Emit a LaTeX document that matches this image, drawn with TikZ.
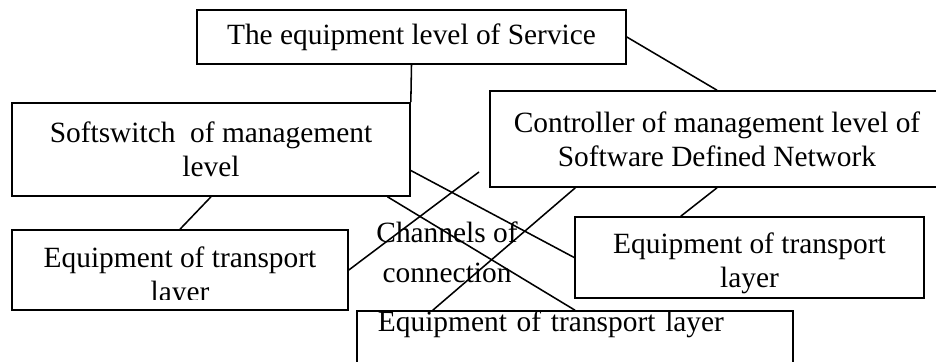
\documentclass[tikz,border=0pt]{standalone}
\usepackage{fontspec}
\setmainfont{Liberation Serif}

\begin{document}
\begin{tikzpicture}[x=0.025cm, y=-0.025cm,
    box/.style={draw, line width=1.1pt, inner sep=0pt, align=center,
      font=\fontsize{20.9}{24}\selectfont},
    boxtext/.style={inner sep=0pt, align=center, font=\fontsize{20.9}{24}\selectfont},
    link/.style={line width=1.1pt}]
\useasboundingbox (0,0) rectangle (936,362);
\node[box, minimum width=10.725cm, minimum height=1.35cm] (service) at (411.5,37) {The equipment level of Service}; % service level
\node[box, minimum width=9.95cm, minimum height=2.325cm] (softsw) at (211,149.5) {Softswitch~ of management\\level}; % softswitch
\node[box, minimum width=11.35cm, minimum height=2.4cm] (ctrl) at (717,139) {Controller of management level of\\Software Defined Network}; % SDN controller
\node[box, minimum width=8.4cm, minimum height=2cm] (eqleft) at (180,270) {}; % transport left
\begin{scope}
  \clip (eqleft.north west) rectangle ([yshift=0.275cm]eqleft.south east);
  \node[boxtext] (eqlefttext) at (180,277) {Equipment of transport\\layer};
\end{scope}
\node[box, minimum width=8.725cm, minimum height=2.025cm] (eqright) at (749.5,257.5) {}; % transport right
\node[boxtext] (eqrighttext) at (749.5,263) {Equipment of transport\\layer};
\node[box, text width=9.85cm, align=left, inner xsep=0.525cm, inner ysep=0pt,
  text height=0.525cm, text depth=1.475cm] (eqbottom) at (575,351) {Equipment of transport layer}; % transport bottom
\node[boxtext, font=\fontsize{20.9}{28.4}\selectfont] (channels) at (447,252) {Channels of\\connection};
\coordinate (loose) at (479,172);

\draw[link] (service.south) -- (softsw.north east);
\draw[link] (service.east) -- (ctrl.north);
\draw[link] (softsw.south) -- (eqleft.north);
\draw[link] (eqleft.east) -- (loose);
\draw[link] (softsw.-6.45) -- (eqright.west);
\draw[link] (softsw.-15.8) -- (eqbottom.north);
\draw[link] (ctrl.-161.3) -- (eqbottom.164.4);
\draw[link] (ctrl.south) -- (eqright.149.4);
\end{tikzpicture}
\end{document}
